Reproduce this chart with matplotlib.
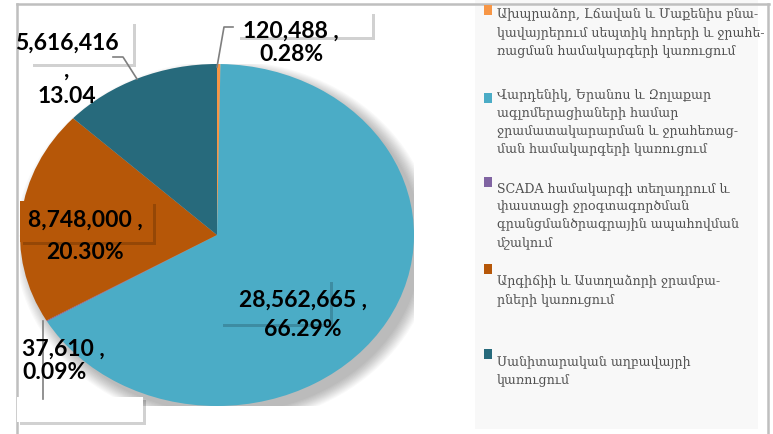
import matplotlib

matplotlib.use("Agg")
import matplotlib.pyplot as plt
import matplotlib.patheffects as pe
from matplotlib.patches import Rectangle, Ellipse

W, H = 773, 435

# data
values = [120488, 28562665, 37610, 8748000, 5616416]
colors = ["#F79646", "#4BACC6", "#8064A2", "#B65708", "#276A7C"]
legend_labels = [
    "Ախպրաձոր, Լճավան և Մաքենիս բնա-\nկավայրերում սեպտիկ հորերի և ջրահե-\nռացման համակարգերի կառուցում",
    "Վարդենիկ, Երանոս և Զոլաքար\nագլոմերացիաների համար\nջրամատակարարման և ջրահեռաց-\nման համակարգերի կառուցում",
    "SCADA համակարգի տեղադրում և\nփաստացի ջրօգտագործման\nգրանցմանծրագրային ապահովման\nմշակում",
    "\nԱրգիճիի և Աստղաձորի ջրամբա-\nրների կառուցում",
    "Սանիտարական աղբավայրի\nկառուցում",
]

total = sum(values)
pcts = [v / total * 100 for v in values]
labels = [f"{v:,} ,\n{p:.2f}%" for v, p in zip(values, pcts)]
labels[4] = f"{values[4]:,}\n,\n{pcts[4]:.2f}"


def fx(x):
    return x / W


def fy(y):
    return 1 - y / H


fig = plt.figure(figsize=(W / 100, H / 100), dpi=100)
fig.patch.set_facecolor("white")

# outer frame and legend panel
ax_bg = fig.add_axes([0, 0, 1, 1])
ax_bg.set_xlim(0, W)
ax_bg.set_ylim(H, 0)
ax_bg.axis("off")
ax_bg.add_patch(Rectangle((475, 0), 283, 430, facecolor="#F8F8F8", edgecolor="none"))
ax_bg.plot([17, 769], [5, 5], color="#BFBFBF", lw=1.8)
ax_bg.plot([17, 17], [5, 435], color="#BFBFBF", lw=1.8)
ax_bg.plot([768, 768], [5, 435], color="#BFBFBF", lw=1.8)

# pie (elliptical in the reference)
cx, cy, rx, ry = 217, 236, 197, 171
ax = fig.add_axes([fx(cx - rx), fy(cy + ry), 2 * rx / W, 2 * ry / H])
for i in range(12):
    ax.add_patch(Ellipse((0.04, -0.045), 2 + 0.012 * i, 2 + 0.012 * i,
                         facecolor="black", edgecolor="none", alpha=0.022, zorder=0))
ax.pie(values, colors=colors, startangle=90, counterclock=False, radius=1,
       wedgeprops=dict(edgecolor="none", zorder=2))
ax.set_aspect("auto")
ax.set_xlim(-1, 1)
ax.set_ylim(-1, 1)
ax.axis("off")

# label boxes (pixel coords)
ax_top = fig.add_axes([0, 0, 1, 1])
ax_top.set_xlim(0, W)
ax_top.set_ylim(H, 0)
ax_top.axis("off")
shadow = [pe.withSimplePatchShadow(offset=(2, -2), shadow_rgbFace="black", alpha=0.18)]
boxes = [
    ((237, 12, 135, 26), "white"),
    ((30, 22, 103, 43), "white"),
    ((17, 398, 126, 25), "white"),
    ((220, 280, 110, 45), colors[1]),
    ((20, 202, 133, 41), colors[3]),
]
for (x, y, w, h), fc in boxes:
    r = Rectangle((x, y), w, h, facecolor=fc, edgecolor="none")
    r.set_path_effects(shadow + [pe.Normal()])
    ax_top.add_patch(r)

# leader lines
lc = "#7F7F7F"
ax_top.plot([217, 224, 233], [68, 28, 28], color=lc, lw=1.2)
ax_top.plot([113, 123, 137], [58, 58, 80], color=lc, lw=1.2)
ax_top.plot([43, 43], [322, 400], color=lc, lw=1.2)

lab_font = dict(fontfamily="Lato", fontweight="bold", fontsize=16.5, color="black")
ax_top.text(291, 43, labels[0], ha="center", va="center", linespacing=1.15, **lab_font)
ax_top.text(303, 315, labels[1], ha="center", va="center", linespacing=1.45, **lab_font)
ax_top.text(22, 361, labels[2], ha="left", va="center", linespacing=1.1, **lab_font)
ax_top.text(85, 236, labels[3], ha="center", va="center", linespacing=1.65, **lab_font)
ax_top.text(67, 70, labels[4], ha="center", va="center", linespacing=1.35, **lab_font)

# legend
marker_y = [6, 94, 178, 265, 350]
legend_y = [8, 88, 182, 257, 355]
for lab, c, my, ty in zip(legend_labels, colors, marker_y, legend_y):
    ax_top.add_patch(Rectangle((484, my), 8, 10, facecolor=c, edgecolor="none"))
    ax_top.text(497, ty, lab, ha="left", va="top", fontfamily="DejaVu Serif",
                fontsize=9.1, color="#505050", linespacing=1.5)

fig.savefig("out.png", dpi=100)
